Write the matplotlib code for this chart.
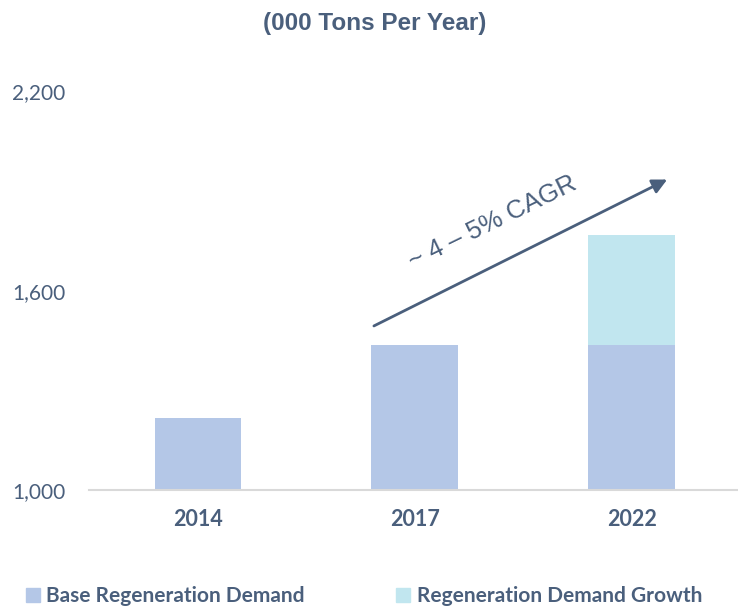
import matplotlib
matplotlib.use('Agg')
import matplotlib.pyplot as plt
from matplotlib.patches import Patch

# data
years = ['2014', '2017', '2022']
base_demand = [1217, 1436, 1436]
demand_growth = [0, 0, 331]
yticks = [1000, 1600, 2200]
ytick_labels = ['1,000', '1,600', '2,200']

text_color = '#4A5F7C'
base_color = '#B4C7E7'
growth_color = '#C1E6EF'

fig = plt.figure(figsize=(7.38, 6.08), dpi=100)
ax = fig.add_axes([0.1206, 0.194, 0.8794, 0.656])

x = range(len(years))
ax.bar(x, base_demand, width=0.4, color=base_color, bottom=0)
ax.bar(x, demand_growth, width=0.4, color=growth_color, bottom=base_demand)

ax.set_ylim(1000, 2200)
ax.set_xlim(-0.502, 2.49)
ax.set_yticks(yticks)
ax.set_yticklabels(ytick_labels, fontfamily='Lato', fontsize=15, color=text_color)
for lab in ax.get_yticklabels():
    lab.set_horizontalalignment('left')
ax.set_xticks(list(x))
ax.set_xticklabels(years, fontfamily='Lato', fontsize=15.5, fontweight='bold', color=text_color)
ax.tick_params(axis='y', length=0, pad=55.4)
ax.tick_params(axis='x', length=0, pad=14)
for s in ['top', 'right', 'left']:
    ax.spines[s].set_visible(False)
ax.spines['bottom'].set_color('#D9D9D9')
ax.spines['bottom'].set_linewidth(1.5)

# CAGR arrow
ax.annotate('', xy=(2.175, 1938), xytext=(0.80, 1490),
            arrowprops=dict(arrowstyle='-|>', color=text_color, lw=2, mutation_scale=22))
ax.text(1.36, 1806, '~ 4 – 5% CAGR', rotation=26, fontfamily='Liberation Sans',
        fontsize=18.5, color=text_color, ha='center', va='center', rotation_mode='anchor')

fig.text(0.508, 0.962, '(000 Tons Per Year)', fontfamily='Liberation Sans', fontweight='bold',
         fontsize=17.5, color=text_color, ha='center', va='center')

handles = [Patch(color=base_color, label='Base Regeneration Demand'),
           Patch(color=growth_color, label='Regeneration Demand Growth')]
leg = fig.legend(handles=handles, loc='lower left', bbox_to_anchor=(26 / 738, 0.003), ncol=2,
                 frameon=False, borderpad=0, borderaxespad=0,
                 handlelength=0.67, handleheight=0.67, handletextpad=0.3,
                 columnspacing=4.4, prop={'family': 'Lato', 'weight': 'bold', 'size': 15})
for t in leg.get_texts():
    t.set_color(text_color)

fig.savefig('out.png', dpi=100)
